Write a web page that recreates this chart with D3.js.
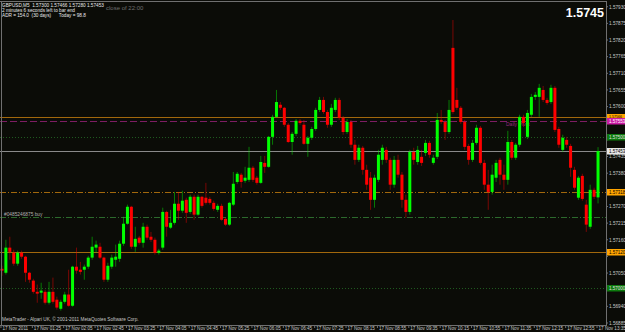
<!DOCTYPE html>
<html>
<head>
<meta charset="utf-8">
<script src="https://cdn.jsdelivr.net/npm/d3@7"></script>
<style>
  html, body { margin: 0; padding: 0; background: #0b0c07; }
  svg { display: block; }
  text { font-family: "Liberation Sans", Arial, sans-serif; white-space: pre; }
</style>
</head>
<body>
<svg id="chart" width="625" height="332"></svg>
<script>
// GBPUSD M5, one candle per 5 minutes
const opens = [
  1.57064, 1.57051, 1.57134, 1.57117, 1.57081, 1.57117, 1.57104, 1.57051, 1.57025, 1.56988,
  1.56985, 1.56988, 1.56952, 1.56988, 1.56962, 1.56932, 1.56955, 1.56979, 1.56942, 1.57071,
  1.57061, 1.57061, 1.57071, 1.57101, 1.57134, 1.57137, 1.57101, 1.57028, 1.57071, 1.57094,
  1.57097, 1.57147, 1.57213, 1.57269, 1.57137, 1.57167, 1.57150, 1.57203, 1.57170, 1.57160,
  1.57117, 1.57134, 1.57252, 1.57200, 1.57216, 1.57279, 1.57256, 1.57292, 1.57252, 1.57302,
  1.57243, 1.57302, 1.57299, 1.57295, 1.57282, 1.57259, 1.57272, 1.57229, 1.57210, 1.57276,
  1.57351, 1.57375, 1.57355, 1.57358, 1.57398, 1.57365, 1.57348, 1.57414, 1.57401, 1.57500,
  1.57566, 1.57606, 1.57596, 1.57540, 1.57483, 1.57510, 1.57553, 1.57540, 1.57477, 1.57497,
  1.57526, 1.57589, 1.57622, 1.57582, 1.57540, 1.57589, 1.57622, 1.57563, 1.57516, 1.57549,
  1.57474, 1.57424, 1.57464, 1.57391, 1.57365, 1.57292, 1.57358, 1.57424, 1.57457, 1.57424,
  1.57342, 1.57424, 1.57375, 1.57292, 1.57252, 1.57450, 1.57417, 1.57434, 1.57447, 1.57480,
  1.57414, 1.57434, 1.57556, 1.57549, 1.57516, 1.57794, 1.57622, 1.57596, 1.57549, 1.57470,
  1.57424, 1.57480, 1.57530, 1.57414, 1.57342, 1.57318, 1.57365, 1.57424, 1.57375, 1.57358,
  1.57483, 1.57431, 1.57474, 1.57566, 1.57500, 1.57573, 1.57632, 1.57632, 1.57655, 1.57622,
  1.57615, 1.57662, 1.57526, 1.57457, 1.57490, 1.57470, 1.57391, 1.57299, 1.57371, 1.57276,
  1.57203, 1.57325, 1.57300
];
const highs = [
  1.57074, 1.57160, 1.57170, 1.57127, 1.57124, 1.57124, 1.57107, 1.57054, 1.57031, 1.57012,
  1.57018, 1.56995, 1.57021, 1.57035, 1.56972, 1.56962, 1.56988, 1.57061, 1.57074, 1.57134,
  1.57087, 1.57078, 1.57107, 1.57170, 1.57157, 1.57150, 1.57104, 1.57084, 1.57111, 1.57144,
  1.57157, 1.57236, 1.57276, 1.57272, 1.57203, 1.57173, 1.57216, 1.57210, 1.57186, 1.57167,
  1.57130, 1.57266, 1.57256, 1.57259, 1.57318, 1.57318, 1.57322, 1.57299, 1.57309, 1.57309,
  1.57309, 1.57305, 1.57348, 1.57302, 1.57289, 1.57279, 1.57279, 1.57233, 1.57285, 1.57384,
  1.57384, 1.57381, 1.57401, 1.57467, 1.57404, 1.57371, 1.57437, 1.57437, 1.57503, 1.57573,
  1.57655, 1.57615, 1.57599, 1.57546, 1.57516, 1.57559, 1.57559, 1.57556, 1.57503, 1.57533,
  1.57596, 1.57632, 1.57632, 1.57589, 1.57609, 1.57629, 1.57629, 1.57569, 1.57559, 1.57556,
  1.57490, 1.57474, 1.57470, 1.57408, 1.57384, 1.57375, 1.57457, 1.57474, 1.57467, 1.57431,
  1.57437, 1.57441, 1.57384, 1.57309, 1.57457, 1.57464, 1.57470, 1.57457, 1.57490, 1.57487,
  1.57441, 1.57579, 1.57589, 1.57556, 1.57622, 1.57886, 1.57662, 1.57602, 1.57556, 1.57477,
  1.57490, 1.57540, 1.57536, 1.57424, 1.57391, 1.57408, 1.57424, 1.57431, 1.57408, 1.57520,
  1.57490, 1.57480, 1.57573, 1.57573, 1.57589, 1.57642, 1.57648, 1.57675, 1.57668, 1.57629,
  1.57672, 1.57668, 1.57533, 1.57507, 1.57500, 1.57477, 1.57401, 1.57371, 1.57378, 1.57292,
  1.57342, 1.57332, 1.57466
];
const lows = [
  1.57041, 1.57045, 1.57094, 1.57074, 1.57074, 1.57097, 1.57021, 1.57018, 1.56982, 1.56952,
  1.56965, 1.56946, 1.56946, 1.56949, 1.56929, 1.56926, 1.56949, 1.56939, 1.56939, 1.57048,
  1.57045, 1.57028, 1.57064, 1.57094, 1.57117, 1.57097, 1.57021, 1.57021, 1.57064, 1.57071,
  1.57087, 1.57140, 1.57210, 1.57130, 1.57120, 1.57144, 1.57134, 1.57160, 1.57153, 1.57111,
  1.57111, 1.57127, 1.57170, 1.57196, 1.57210, 1.57226, 1.57249, 1.57216, 1.57246, 1.57226,
  1.57239, 1.57266, 1.57276, 1.57276, 1.57256, 1.57252, 1.57223, 1.57206, 1.57206, 1.57272,
  1.57345, 1.57332, 1.57348, 1.57351, 1.57351, 1.57342, 1.57345, 1.57381, 1.57398, 1.57474,
  1.57563, 1.57589, 1.57533, 1.57480, 1.57441, 1.57503, 1.57540, 1.57474, 1.57434, 1.57490,
  1.57520, 1.57582, 1.57576, 1.57530, 1.57533, 1.57582, 1.57556, 1.57507, 1.57510, 1.57464,
  1.57408, 1.57417, 1.57375, 1.57325, 1.57259, 1.57266, 1.57351, 1.57408, 1.57414, 1.57325,
  1.57332, 1.57365, 1.57266, 1.57233, 1.57243, 1.57408, 1.57408, 1.57404, 1.57437, 1.57431,
  1.57408, 1.57427, 1.57543, 1.57490, 1.57510, 1.57576, 1.57589, 1.57543, 1.57457, 1.57408,
  1.57417, 1.57474, 1.57408, 1.57325, 1.57259, 1.57309, 1.57351, 1.57342, 1.57325, 1.57342,
  1.57424, 1.57424, 1.57467, 1.57533, 1.57493, 1.57566, 1.57622, 1.57566, 1.57615, 1.57606,
  1.57609, 1.57516, 1.57464, 1.57450, 1.57464, 1.57368, 1.57325, 1.57292, 1.57289, 1.57186,
  1.57196, 1.57295, 1.57280
];
const closes = [
  1.57058, 1.57134, 1.57120, 1.57081, 1.57117, 1.57104, 1.57051, 1.57028, 1.56988, 1.56982,
  1.56992, 1.56952, 1.56988, 1.56955, 1.56936, 1.56955, 1.56979, 1.56942, 1.57071, 1.57058,
  1.57054, 1.57071, 1.57101, 1.57137, 1.57144, 1.57101, 1.57028, 1.57074, 1.57101, 1.57104,
  1.57147, 1.57213, 1.57269, 1.57137, 1.57163, 1.57150, 1.57203, 1.57167, 1.57160, 1.57117,
  1.57124, 1.57252, 1.57203, 1.57216, 1.57279, 1.57256, 1.57289, 1.57249, 1.57302, 1.57243,
  1.57302, 1.57272, 1.57282, 1.57282, 1.57262, 1.57272, 1.57226, 1.57210, 1.57282, 1.57345,
  1.57378, 1.57351, 1.57365, 1.57398, 1.57358, 1.57348, 1.57417, 1.57401, 1.57500, 1.57566,
  1.57615, 1.57596, 1.57540, 1.57483, 1.57510, 1.57553, 1.57546, 1.57477, 1.57497, 1.57526,
  1.57589, 1.57622, 1.57582, 1.57540, 1.57596, 1.57622, 1.57563, 1.57516, 1.57549, 1.57474,
  1.57424, 1.57464, 1.57391, 1.57342, 1.57292, 1.57365, 1.57441, 1.57464, 1.57424, 1.57342,
  1.57424, 1.57375, 1.57292, 1.57252, 1.57450, 1.57424, 1.57457, 1.57414, 1.57480, 1.57441,
  1.57431, 1.57556, 1.57549, 1.57516, 1.57589, 1.57582, 1.57596, 1.57549, 1.57467, 1.57424,
  1.57480, 1.57530, 1.57414, 1.57342, 1.57318, 1.57375, 1.57414, 1.57375, 1.57358, 1.57483,
  1.57431, 1.57474, 1.57566, 1.57546, 1.57579, 1.57632, 1.57639, 1.57662, 1.57622, 1.57612,
  1.57662, 1.57523, 1.57474, 1.57497, 1.57474, 1.57398, 1.57332, 1.57365, 1.57295, 1.57210,
  1.57325, 1.57302, 1.57453
];

// one time label every 8 bars
const timeLabels = [
  '17 Nov 2011', '17 Nov 01:25', '17 Nov 02:05', '17 Nov 02:45', '17 Nov 03:25',
  '17 Nov 04:05', '17 Nov 04:45', '17 Nov 05:25', '17 Nov 06:05', '17 Nov 06:45',
  '17 Nov 07:25', '17 Nov 08:15', '17 Nov 08:55', '17 Nov 09:35', '17 Nov 10:15',
  '17 Nov 10:55', '17 Nov 11:35', '17 Nov 12:15', '17 Nov 12:55', '17 Nov 13:35'
];
const priceTicks = [
  '1.57930', '1.57875', '1.57820', '1.57765', '1.57710', '1.57655', '1.57600', '1.57545',
  '1.57490', '1.57435', '1.57380', '1.57325', '1.57270', '1.57215', '1.57160', '1.57105',
  '1.57050', '1.56995', '1.56940', '1.56885'
];

// horizontal levels drawn across the chart
const levelPrices = [1.57566, 1.57553, 1.57500, 1.57453, 1.57318, 1.57236, 1.57120, 1.57000];
const levelKinds  = ['r1', 'pivot', 'round', 'bid', 's1', 'order', 's2', 'round'];

const infoLines = [
  'GBPUSD,M5  1.57300 1.57466 1.57280 1.57453',
  '2 minutes 6 seconds left to bar end',
  'ADR = 154.0  (30 days)      Today = 98.8'
];

const W = 625, H = 332;
const plotRight = 606, plotBottom = 325;
const bg = '#0b0c07';
const upColor = '#00ff00', downColor = '#ff0000';

const svg = d3.select('#chart');
svg.append('rect').attr('width', W).attr('height', H).attr('fill', bg);

const x = d3.scaleBand()
    .domain(d3.range(opens.length))
    .range([0, 600]);
const y = d3.scaleLinear()
    .domain([1.56885, 1.57820])
    .range([323, 40]);

svg.append('clipPath').attr('id', 'plot')
    .append('rect').attr('x', 0).attr('y', 0)
    .attr('width', plotRight).attr('height', plotBottom);

const plot = svg.append('g').attr('clip-path', 'url(#plot)');

/**
 * level lines
 */
const levelStyle = {
  r1:    { color: '#a2680c', dash: null },
  pivot: { color: '#7e1d62', dash: '7 3' },
  round: { color: '#1f5a1f', dash: '1 2' },
  bid:   { color: '#8a8a8a', dash: null },
  s1:    { color: '#a2680c', dash: '6 2 1 2' },
  order: { color: '#2c6a2c', dash: '6 2 1 2' },
  s2:    { color: '#a2680c', dash: null }
};
levelPrices.forEach((p, i) => {
  const st = levelStyle[levelKinds[i]];
  plot.append('line')
      .attr('x1', 0).attr('x2', plotRight)
      .attr('y1', Math.round(y(p)) + 0.5).attr('y2', Math.round(y(p)) + 0.5)
      .attr('stroke', st.color)
      .attr('stroke-width', 1)
      .attr('stroke-dasharray', st.dash);
});

plot.append('text')
    .attr('x', 506).attr('y', y(1.57553) + 5)
    .attr('font-size', 5)
    .attr('fill', '#9a2a7e')
    .text('Daily Pivot');

plot.append('text')
    .attr('x', 4).attr('y', y(1.57236) - 1)
    .attr('font-size', 4.8)
    .attr('fill', '#b0b0b0')
    .text('#0485246875 buy');

/**
 * candles
 */
const bars = d3.range(opens.length);
const bw = 3;
const cx = i => x(i) + x.bandwidth() / 2;

plot.selectAll('.wick').data(bars).enter().append('line')
    .attr('class', 'wick')
    .attr('x1', cx).attr('x2', cx)
    .attr('y1', i => y(highs[i])).attr('y2', i => y(lows[i]))
    .attr('stroke', i => closes[i] >= opens[i] ? upColor : downColor)
    .attr('stroke-opacity', 0.45)
    .attr('stroke-width', 1);

plot.selectAll('.body').data(bars).enter().append('rect')
    .attr('class', 'body')
    .attr('x', i => cx(i) - bw / 2)
    .attr('width', bw)
    .attr('y', i => y(Math.max(opens[i], closes[i])))
    .attr('height', i => Math.max(1, Math.abs(y(opens[i]) - y(closes[i]))))
    .attr('fill', i => closes[i] >= opens[i] ? upColor : downColor);

/**
 * frame
 */
const frame = '#707070';
svg.append('line').attr('x1', 0).attr('x2', plotRight).attr('y1', 1.5).attr('y2', 1.5)
    .attr('stroke', frame);
svg.append('line').attr('x1', 1.5).attr('x2', 1.5).attr('y1', 1).attr('y2', plotBottom)
    .attr('stroke', frame);
svg.append('line').attr('x1', plotRight + 0.5).attr('x2', plotRight + 0.5)
    .attr('y1', 1).attr('y2', plotBottom + 1).attr('stroke', frame);
svg.append('line').attr('x1', 0).attr('x2', plotRight + 1)
    .attr('y1', plotBottom + 0.5).attr('y2', plotBottom + 0.5).attr('stroke', frame);

/**
 * price axis: the coloured level boxes cover the ticks they sit on
 */
const axisText = '#c8c8c8';
const boxStyle = {
  r1:    { fill: '#ffa500', text: '#000' },
  pivot: { fill: '#cc1ca4', text: '#fff' },
  round: { fill: '#0d7a0d', text: '#e0e0e0' },
  bid:   { fill: '#e6e6e6', text: '#000' },
  s1:    { fill: '#ffa500', text: '#000' },
  s2:    { fill: '#ffa500', text: '#000' }
};
const boxed = levelPrices.filter((p, i) => boxStyle[levelKinds[i]]);

priceTicks.forEach(t => {
  const py = y(+t);
  svg.append('line')
      .attr('x1', plotRight).attr('x2', plotRight + 2)
      .attr('y1', py).attr('y2', py)
      .attr('stroke', frame);
  if (boxed.some(p => Math.abs(y(p) - py) < 5)) return;
  svg.append('text')
      .attr('x', plotRight + 3).attr('y', py + 1.8)
      .attr('font-size', 4.7)
      .attr('fill', axisText)
      .text(t);
});

levelPrices.forEach((p, i) => {
  const st = boxStyle[levelKinds[i]];
  if (!st) return;
  const py = Math.round(y(p));
  svg.append('rect')
      .attr('x', plotRight + 1).attr('y', py - 3)
      .attr('width', W - plotRight - 1).attr('height', 6.5)
      .attr('fill', st.fill);
  // the pivot box is drawn over the r1 box just above it
  const ty = levelKinds[i] === 'r1' ? py + 0.6 : py + 2;
  svg.append('text')
      .attr('x', plotRight + 3).attr('y', ty)
      .attr('font-size', levelKinds[i] === 'r1' ? 3.6 : 4.5)
      .attr('fill', st.text)
      .text(p.toFixed(5));
});

/**
 * time axis
 */
timeLabels.forEach((t, k) => {
  const tx = x(k * 8) + x.bandwidth() / 2 - 1;
  svg.append('line')
      .attr('x1', tx).attr('x2', tx)
      .attr('y1', plotBottom).attr('y2', plotBottom + 3)
      .attr('stroke', frame);
  svg.append('text')
      .attr('x', tx + 1.5).attr('y', plotBottom + 4.6)
      .attr('font-size', 4.6)
      .attr('fill', axisText)
      .text(t);
});

/**
 * texts
 */
infoLines.forEach((t, k) => {
  svg.append('text')
      .attr('x', 2).attr('y', 7 + k * 5)
      .attr('font-size', 4.7)
      .attr('fill', '#e8e8e8')
      .text(t);
});

svg.append('text')
    .attr('x', 106).attr('y', 9.5)
    .attr('font-size', 6)
    .attr('fill', '#6e6e6e')
    .text('close of 22:00');

svg.append('text')
    .attr('x', 604).attr('y', 17)
    .attr('text-anchor', 'end')
    .attr('font-size', 12.5)
    .attr('font-weight', 'bold')
    .attr('fill', '#ffffff')
    .text(d3.format('.4f')(closes[closes.length - 1]));

svg.append('text')
    .attr('x', 2).attr('y', 320.5)
    .attr('font-size', 4.7)
    .attr('fill', '#c8c8c8')
    .text('MetaTrader - Alpari UK, \u00a9 2001-2011 MetaQuotes Software Corp.');
</script>
</body>
</html>
